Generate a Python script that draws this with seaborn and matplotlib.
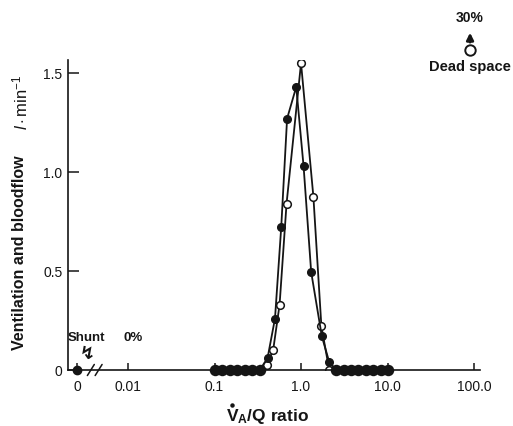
import numpy as np
import pandas as pd
import matplotlib
matplotlib.use("Agg")
import matplotlib.pyplot as plt
from matplotlib.lines import Line2D
import seaborn as sns

# V/Q compartments (ratio, l/min)
vent_ratio = [0.10, 0.122, 0.149, 0.182, 0.223, 0.272, 0.333, 0.40, 0.476, 0.565, 0.68, 1.0,
              1.39, 1.72, 2.12, 2.55, 3.1, 3.8, 4.6, 5.6, 6.8, 8.3, 10.0]
vent_flow = [0, 0, 0, 0, 0, 0, 0, 0.025, 0.10, 0.33, 0.84, 1.55,
             0.875, 0.22, 0, 0, 0, 0, 0, 0, 0, 0, 0]

blood_ratio = [0.10, 0.122, 0.149, 0.182, 0.223, 0.272, 0.333, 0.41, 0.50, 0.59, 0.69, 0.88,
               1.07, 1.31, 1.74, 2.12, 2.55, 3.1, 3.8, 4.6, 5.6, 6.8, 8.3, 10.0]
blood_flow = [0, 0, 0, 0, 0, 0, 0, 0.06, 0.26, 0.72, 1.27, 1.43,
              1.03, 0.495, 0.17, 0.04, 0, 0, 0, 0, 0, 0, 0, 0]

shunt_flow = 0.0
xtick_labels = ["0", "0.01", "0.1", "1.0", "10.0", "100.0"]
ytick_vals = [0, 0.5, 1.0, 1.5]
ytick_labels = ["0", "0.5", "1.0", "1.5"]

sns.set_style("ticks")
plt.rcParams["font.family"] = ["Liberation Sans", "DejaVu Sans"]
plt.rcParams["mathtext.fontset"] = "custom"
plt.rcParams["mathtext.rm"] = "Liberation Sans"
plt.rcParams["mathtext.it"] = "Liberation Sans:italic"
plt.rcParams["mathtext.bf"] = "Liberation Sans:bold"

ink = "#151515"
fig = plt.figure(figsize=(5.13, 4.26), dpi=100)
ax = fig.add_axes([68 / 513, 56 / 426, 412 / 513, 310 / 426])

vent = pd.DataFrame({"u": np.log10(vent_ratio), "flow": vent_flow})
blood = pd.DataFrame({"u": np.log10(blood_ratio), "flow": blood_flow})

sns.lineplot(data=vent, x="u", y="flow", ax=ax, color=ink, lw=1.3, sort=False,
             marker="o", markersize=5.5, markerfacecolor="white",
             markeredgecolor=ink, markeredgewidth=1.1)
sns.lineplot(data=blood, x="u", y="flow", ax=ax, color=ink, lw=1.3, sort=False,
             marker="o", markersize=5.5, markerfacecolor=ink,
             markeredgecolor=ink, markeredgewidth=1.0)

# empty compartments drawn as a dense black band on the axis
zeros = blood[blood["flow"] == 0]
sns.scatterplot(data=zeros, x="u", y="flow", ax=ax, color=ink, s=68, marker="o",
                edgecolor=ink, linewidth=0, clip_on=False, zorder=4, legend=False)

# broken axis: "0" sits left of the break
zero_pos = -2.59
ax.plot([zero_pos], [shunt_flow], "o", color=ink, ms=6, clip_on=False, zorder=5)
for bx in (-2.43, -2.34):
    ax.plot([bx - 0.04, bx + 0.04], [-0.028, 0.028], color=ink, lw=1.1, clip_on=False)

ax.set_xlim(-2.694, 2.069)
ax.set_ylim(0, 1.566)
ax.set_xticks([zero_pos, -2, -1, 0, 1, 2])
ax.set_xticklabels(xtick_labels)
ax.set_yticks(ytick_vals)
ax.set_yticklabels(ytick_labels)
ax.tick_params(axis="x", direction="in", length=5, width=1.1, pad=7, labelsize=10, colors=ink)
ax.tick_params(axis="y", direction="in", length=8, width=1.1, pad=4, labelsize=10, colors=ink)
ax.set_xlabel("")
ax.set_ylabel("")
for s in ("top", "right"):
    ax.spines[s].set_visible(False)
for s in ("left", "bottom"):
    ax.spines[s].set_linewidth(1.2)
    ax.spines[s].set_color(ink)

# shunt annotation
ax.text(-2.694, 0.162, "Shunt", fontsize=9.5, fontweight="bold", color=ink, va="center", ha="left")
ax.text(-2.058, 0.162, "0%", fontsize=9.5, fontweight="bold", color=ink, va="center", ha="left")
ax.text(-2.474, 0.08, "\u21af", fontsize=13, fontweight="bold", color=ink, va="center", ha="center",
        family=["DejaVu Sans"])

# dead space annotation
ax.plot([1.954], [1.616], "o", mfc="white", mec=ink, mew=1.4, ms=7.5, clip_on=False)
ax.annotate("", xy=(1.954, 1.718), xytext=(1.954, 1.642), annotation_clip=False,
            arrowprops=dict(arrowstyle="-|>", color=ink, lw=2.0, mutation_scale=10))
ax.text(1.954, 1.778, "30%", fontsize=10, fontweight="bold", color=ink, ha="center", va="center")
ax.text(1.48, 1.53, "Dead space", fontsize=10.5, fontweight="bold", color=ink, ha="left", va="center")

# axis titles
fig.text(20 / 513, 1 - 253 / 426, "Ventilation and bloodflow", rotation=90, fontsize=11.5,
         fontweight="bold", color=ink, ha="center", va="center")
fig.text(20 / 513, 1 - 102 / 426, r"$\mathit{l}\cdot$min$^{-1}$", rotation=90, fontsize=12,
         color=ink, ha="center", va="center")
xl = fig.text(268 / 513, 1 - 417 / 426, r"$\mathbf{V}_{\mathbf{A}}\mathbf{/Q}$ ratio", fontsize=12.5,
              fontweight="bold", color=ink, ha="center", va="center")
fig.canvas.draw()
bb = xl.get_window_extent()
# dot over the V
fig.add_artist(Line2D([(bb.x0 + 5.5) / 513], [(bb.y1 + 2.5) / 426], marker="o", ms=2.2,
                      color=ink, transform=fig.transFigure))

fig.savefig("out.png", dpi=100, facecolor="white")
